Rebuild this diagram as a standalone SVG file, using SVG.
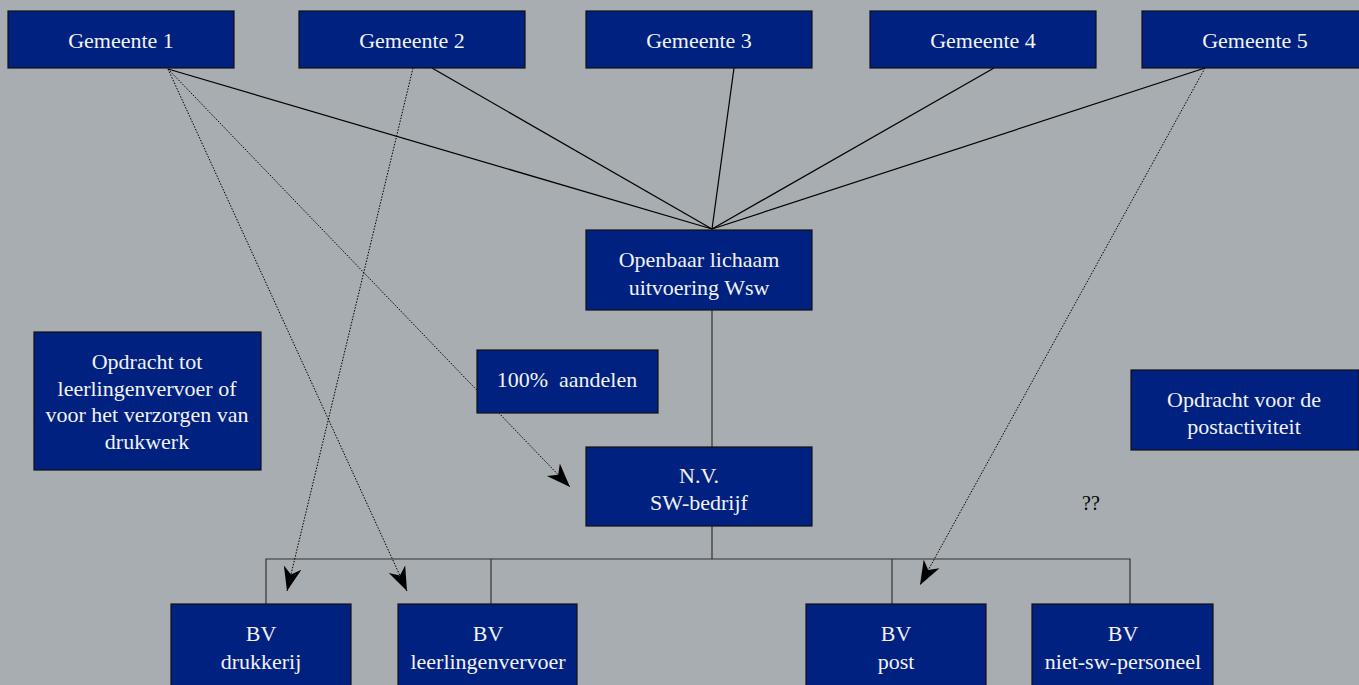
<svg xmlns="http://www.w3.org/2000/svg" width="1359" height="685" viewBox="0 0 1359 685">
<defs>
<style>
.box{fill:#00217f;stroke:#111;stroke-width:1.2}
.t{font-family:"Liberation Serif","DejaVu Serif",serif;font-size:22px;fill:#f2f2f2;text-anchor:middle}
.ln{stroke:#000;stroke-width:1.2;fill:none}
.tree{stroke:#333;stroke-width:1.2;fill:none}
.dot{stroke:#000;stroke-width:1;stroke-dasharray:1.5 1.5;fill:none}
</style>
<marker id="ah" markerUnits="userSpaceOnUse" markerWidth="26" markerHeight="20" refX="24" refY="9" orient="auto" viewBox="0 0 26 18">
<path d="M0,0 L24,9 L0,18 L7,9 Z" fill="#000"/>
</marker>
</defs>
<rect width="1359" height="685" fill="#a7adb0"/>
<g id="connectors">
<line class="ln" x1="168" y1="69" x2="712" y2="229"/>
<line class="ln" x1="432" y1="68" x2="712" y2="229"/>
<line class="ln" x1="734" y1="68" x2="712" y2="229"/>
<line class="ln" x1="994" y1="68" x2="712" y2="229"/>
<line class="ln" x1="1205" y1="68" x2="712" y2="229"/>
<line class="tree" x1="712" y1="310" x2="712" y2="447"/>
<line class="tree" x1="712" y1="526" x2="712" y2="559"/>
<polyline class="tree" points="266,604 266,559 1130,559 1130,604"/>
<line class="tree" x1="491" y1="559" x2="491" y2="604"/>
<line class="tree" x1="892" y1="559" x2="892" y2="604"/>
<line class="dot" x1="168" y1="69" x2="570" y2="487" marker-end="url(#ah)"/>
<line class="dot" x1="168" y1="69" x2="407" y2="591" marker-end="url(#ah)"/>
<line class="dot" x1="413" y1="68" x2="287" y2="591" marker-end="url(#ah)"/>
<line class="dot" x1="1205" y1="68" x2="920" y2="585" marker-end="url(#ah)"/>
</g>
<g id="g1"><rect class="box" x="8" y="11" width="226" height="57"/><text class="t" x="121" y="48">Gemeente 1</text></g>
<g id="g2"><rect class="box" x="299" y="11" width="226" height="57"/><text class="t" x="412" y="48">Gemeente 2</text></g>
<g id="g3"><rect class="box" x="586" y="11" width="226" height="57"/><text class="t" x="699" y="48">Gemeente 3</text></g>
<g id="g4"><rect class="box" x="870" y="11" width="226" height="57"/><text class="t" x="983" y="48">Gemeente 4</text></g>
<g id="g5"><rect class="box" x="1142" y="11" width="226" height="57"/><text class="t" x="1255" y="48">Gemeente 5</text></g>
<g id="openbaar"><rect class="box" x="586" y="230" width="226" height="80"/><text class="t" x="699" y="267">Openbaar lichaam</text><text class="t" x="699" y="295">uitvoering Wsw</text></g>
<g id="aandelen"><rect class="box" x="477" y="350" width="181" height="63"/><text class="t" x="567" y="387" style="white-space:pre">100%  aandelen</text></g>
<g id="opdracht1"><rect class="box" x="34" y="332" width="227" height="138"/><text class="t" x="147" y="369">Opdracht tot</text><text class="t" x="147" y="396">leerlingenvervoer of</text><text class="t" x="147" y="422">voor het verzorgen van</text><text class="t" x="147" y="449">drukwerk</text></g>
<g id="opdracht2"><rect class="box" x="1131" y="370" width="228" height="80"/><text class="t" x="1244" y="407">Opdracht voor de</text><text class="t" x="1244" y="434">postactiviteit</text></g>
<g id="nv"><rect class="box" x="586" y="447" width="226" height="79"/><text class="t" x="699" y="483">N.V.</text><text class="t" x="699" y="510">SW-bedrijf</text></g>
<g id="bv1"><rect class="box" x="171" y="604" width="180" height="85"/><text class="t" x="261" y="641">BV</text><text class="t" x="261" y="669">drukkerij</text></g>
<g id="bv2"><rect class="box" x="398" y="604" width="179" height="85"/><text class="t" x="488" y="641">BV</text><text class="t" x="488" y="669">leerlingenvervoer</text></g>
<g id="bv3"><rect class="box" x="806" y="604" width="180" height="85"/><text class="t" x="896" y="641">BV</text><text class="t" x="896" y="669">post</text></g>
<g id="bv4"><rect class="box" x="1032" y="604" width="181" height="85"/><text class="t" x="1123" y="641">BV</text><text class="t" x="1123" y="669">niet-sw-personeel</text></g>
<text x="1091" y="510" style="font-family:'Liberation Serif',serif;font-size:20px;fill:#000;text-anchor:middle">??</text>
</svg>
